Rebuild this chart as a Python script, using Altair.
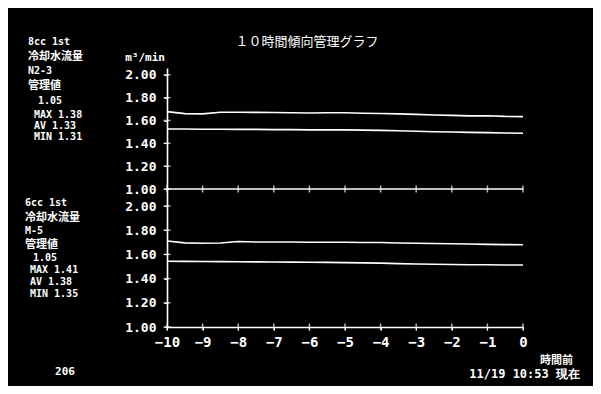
import altair as alt
import pandas as pd

# ---------------- data ----------------
hours = [-10, -9.5, -9, -8.5, -8, -7.5, -7, -6.5, -6, -5.5, -5,
         -4.5, -4, -3.5, -3, -2.5, -2, -1.5, -1, -0.5, 0]

top_upper = [1.678, 1.660, 1.658, 1.672, 1.672, 1.671, 1.670, 1.668, 1.666, 1.668, 1.668,
             1.664, 1.662, 1.658, 1.654, 1.648, 1.645, 1.641, 1.642, 1.636, 1.634]
top_lower = [1.526, 1.526, 1.524, 1.524, 1.522, 1.522, 1.520, 1.520, 1.518, 1.518, 1.518,
             1.516, 1.514, 1.510, 1.506, 1.502, 1.500, 1.496, 1.494, 1.491, 1.489]
bot_upper = [1.711, 1.695, 1.692, 1.694, 1.706, 1.702, 1.702, 1.702, 1.700, 1.700, 1.700,
             1.698, 1.698, 1.694, 1.692, 1.690, 1.688, 1.686, 1.683, 1.681, 1.680]
bot_lower = [1.543, 1.542, 1.541, 1.540, 1.539, 1.538, 1.537, 1.536, 1.535, 1.534, 1.532,
             1.530, 1.528, 1.524, 1.521, 1.519, 1.517, 1.515, 1.514, 1.513, 1.512]

x_ticks = [-10, -9, -8, -7, -6, -5, -4, -3, -2, -1, 0]
y_ticks_panel = [1.0, 1.2, 1.4, 1.6, 1.8, 2.0]
TOP_OFFSET = 2.0  # top panel drawn on the same continuous axis, shifted

title_text = "１０時間傾向管理グラフ"
unit_text = "m³/min"
top_block = ["8cc 1st", "冷却水流量", "N2-3", "管理値", "1.05", "MAX 1.38", "AV  1.33", "MIN 1.31"]
bot_block = ["6cc 1st", "冷却水流量", "M-5", "管理値", "1.05", "MAX 1.41", "AV  1.38", "MIN 1.35"]
page_no = "206"
hours_before = "時間前"
timestamp = "11/19 10:53 現在"

# ---------------- tables ----------------
rows = []
for name, vals, off in [("top_upper", top_upper, TOP_OFFSET), ("top_lower", top_lower, TOP_OFFSET),
                        ("bot_upper", bot_upper, 0.0), ("bot_lower", bot_lower, 0.0)]:
    for h, v in zip(hours, vals):
        rows.append({"h": h, "y": v + off, "series": name})
df = pd.DataFrame(rows)

all_y_ticks = y_ticks_panel + [t + TOP_OFFSET for t in y_ticks_panel]
ytick_df = pd.DataFrame({"h": [-10] * len(all_y_ticks), "y": all_y_ticks})
xtick_df = pd.DataFrame({"h": x_ticks * 2,
                         "y": [1.0] * len(x_ticks) + [1.0 + TOP_OFFSET] * len(x_ticks)})
base_df = pd.DataFrame({"h": [x_ticks[0]], "h2": [x_ticks[-1]], "y": [1.0 + TOP_OFFSET]})

MONO = "DejaVu Sans Mono"
JP = "Noto Sans CJK JP"
WHITE = "#ffffff"

y_scale = alt.Scale(domain=[1.0, 2.0, 3.0, 4.06], range=[259, 138, 121, 0], nice=False, zero=False)
x_scale = alt.Scale(domain=[-10, 0], nice=False, zero=False)

ax_x = alt.Axis(values=x_ticks, format="d", title=None, grid=False, labelOverlap=False,
                domainColor=WHITE, domainWidth=1.6, tickColor=WHITE, tickSize=3,
                labelColor=WHITE, labelFont=MONO, labelFontSize=14, labelFlush=False,
                labelFontWeight="bold", labelPadding=5)
ax_y = alt.Axis(values=all_y_ticks, title=None, grid=False, labelOverlap=False, labelFlush=False,
                labelExpr="format(datum.value > 2.5 ? datum.value - 2 : datum.value, '.2f')",
                domainColor=WHITE, domainWidth=1.6, tickColor=WHITE, tickSize=3,
                labelColor=WHITE, labelFont=MONO, labelFontSize=13,
                labelFontWeight="bold", labelPadding=8)


def X(field):
    return alt.X(field, scale=x_scale, axis=ax_x)


def Y(field):
    return alt.Y(field, scale=y_scale, axis=ax_y)


lines = alt.Chart(df).mark_line(color=WHITE, strokeWidth=1.6).encode(
    x=X("h:Q"), y=Y("y:Q"), detail="series:N")
ycross = alt.Chart(ytick_df).mark_tick(orient="horizontal", color=WHITE, size=7, thickness=1.5).encode(
    x=X("h:Q"), y=Y("y:Q"))
xcross = alt.Chart(xtick_df).mark_tick(orient="vertical", color=WHITE, size=7, thickness=1.5).encode(
    x=X("h:Q"), y=Y("y:Q"))
base_rule = alt.Chart(base_df).mark_rule(color=WHITE, strokeWidth=1.6).encode(
    x=X("h:Q"), x2="h2:Q", y=Y("y:Q"))


def label(text, px, py, size=12, font=MONO, align="left", weight="bold"):
    return alt.Chart(pd.DataFrame({"t": [text]})).mark_text(
        color=WHITE, font=font, fontSize=size, align=align, baseline="middle",
        fontWeight=weight).encode(text="t:N", x=alt.value(px), y=alt.value(py))


texts = [
    label(title_text, 140, -26, size=13, font=JP, align="center", weight="normal"),
    label(unit_text, -2, -10, size=11, align="right"),
    label(page_no, -102, 304, size=11, align="center"),
    label(hours_before, 373, 293, size=11, font=JP),
    label(timestamp, 413, 306, size=12, align="right"),
]

top_pos = [(-139, -26), (-139, -11), (-139, 3), (-139, 18), (-129, 33), (-133, 47), (-133, 58), (-133, 69)]
bot_pos = [(-142, 135), (-142, 150), (-142, 163), (-142, 177), (-134, 190), (-137, 202), (-137, 214), (-137, 226)]
for block, pos in [(top_block, top_pos), (bot_block, bot_pos)]:
    for i, (t, (px, py)) in enumerate(zip(block, pos)):
        is_jp = i in (1, 3)
        texts.append(label(t, px, py, size=11 if is_jp else 10, font=JP if is_jp else MONO))

chart = alt.layer(lines, base_rule, ycross, xcross, *texts).properties(
    width=356, height=259,
    padding={"left": 159, "top": 60, "right": 70, "bottom": 59},
    autosize=alt.AutoSizeParams(type="none"),
    background="black",
).configure_view(strokeWidth=0).configure_axis(labelOverlap=False)

chart.save("out.html", embed_options={"renderer": "svg", "actions": False})
